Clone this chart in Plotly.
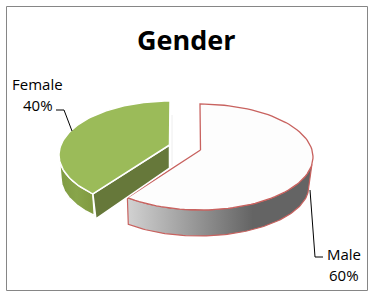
import numpy as np
import plotly.graph_objects as go

categories = ["Male", "Female"]
shares = [60, 40]
title = "Gender"

W, H = 372, 296
RED = "#c8625f"
FONT = "Open Sans"

total = sum(shares)
male_end = 360 * shares[0] / total


def rim(cx, cy, a, b, t0, t1, n=90):
    t = np.radians(np.linspace(t0, t1, n))
    return cx + a * np.sin(t), cy - b * np.cos(t)


def poly(x, y, fill=None, line=None, lw=1.5, grad=None):
    kw = dict(x=list(x) + [x[0]], y=list(y) + [y[0]], mode="lines", fill="toself",
              hoverinfo="skip", showlegend=False)
    kw["line"] = dict(color=line or "rgba(0,0,0,0)", width=lw if line else 0)
    if grad:
        kw["fillgradient"] = dict(type="horizontal", colorscale=grad)
    else:
        kw["fillcolor"] = fill
    return go.Scatter(**kw)


fig = go.Figure()

# Male slice: side wall then top
skew_m = 4
ux, uy = rim(200, 157, 113, 53, 98, male_end + skew_m)
lx, ly = rim(199, 186, 110, 50, 98, male_end + skew_m)
fig.add_trace(poly(np.r_[ux, lx[::-1]], np.r_[uy, ly[::-1]], line=RED, lw=1.2,
                   grad=[[0, "#d2d2d2"], [0.68, "#646464"], [1, "#646464"]]))
tx, ty = rim(200, 157, 113, 53, 0, male_end + skew_m)
fig.add_trace(poly(np.r_[200.5, tx], np.r_[150, ty], fill="#fdfdfd", line=RED, lw=1.3))

# Female slice
skew_f = 8
ux, uy = rim(170, 155, 111, 54, male_end + skew_f, 270)
lx, ly = rim(170, 178, 109, 52, male_end + skew_f, 270)
fig.add_trace(poly(np.r_[ux, lx[::-1]], np.r_[uy, ly[::-1]], line="#ffffff", lw=1.5,
                   grad=[[0, "#7f9a42"], [0.5, "#88a54a"], [1, "#80993f"]]))
sx, sy = rim(170, 155, 111, 54, male_end + skew_f, male_end + skew_f)
fig.add_trace(poly([169.5, sx[0], sx[0] + 3, 169.5], [145, sy[0], sy[0] + 25, 168],
                   fill="#66783a", line="#ffffff", lw=1.5))
tx, ty = rim(170, 155, 111, 54, male_end + skew_f, 360)
fig.add_trace(poly(np.r_[169.5, tx], np.r_[145, ty], fill="#9bbb59", line="#ffffff", lw=1.5))

fig.update_layout(
    width=W, height=H, margin=dict(l=0, r=0, t=0, b=0),
    paper_bgcolor="white", plot_bgcolor="white",
    xaxis=dict(range=[0, W], visible=False, fixedrange=True),
    yaxis=dict(range=[H, 0], visible=False, fixedrange=True),
    shapes=[
        dict(type="rect", x0=6.5, y0=6.5, x1=367.5, y1=290.5,
             line=dict(color="#868686", width=1), layer="below"),
        dict(type="path", path="M56,110 L64,110 L72,131", line=dict(color="#000000", width=1)),
        dict(type="path", path="M310,190 L315,257 L323,257", line=dict(color="#000000", width=1)),
        dict(type="line", x0=172, x1=172, y0=115, y1=166, line=dict(color="#eeeeee", width=1)),
    ],
    annotations=[
        dict(text=title, x=186.5, y=39, showarrow=False, font=dict(family=FONT, size=27, color="black", weight="bold")),
        dict(text=categories[1], x=37.5, y=84, showarrow=False, font=dict(family=FONT, size=15, color="black")),
        dict(text=f"{shares[1]}%", x=37.5, y=105, showarrow=False, font=dict(family=FONT, size=15, color="black")),
        dict(text=categories[0], x=344, y=254, showarrow=False, font=dict(family=FONT, size=15, color="black")),
        dict(text=f"{shares[0]}%", x=344, y=275, showarrow=False, font=dict(family=FONT, size=15, color="black")),
    ],
)
fig.write_html("out.html", config=dict(displayModeBar=False),
               post_script="document.body.style.margin='0';document.body.style.overflow='hidden';")
